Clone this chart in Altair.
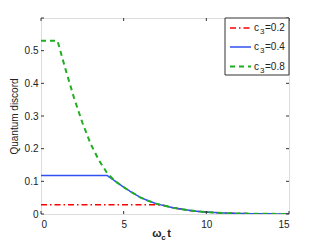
import altair as alt
import pandas as pd

# ---- data ----
t_green = [0, 1.0, 1.5, 2.0, 2.5, 3.0, 3.5, 4.0, 4.5, 5.0, 5.5, 6.0, 6.5, 7.0,
           7.5, 8.0, 8.5, 9.0, 9.5, 10, 11, 12, 13, 14, 15]
q_green = [0.53, 0.53, 0.44, 0.355, 0.28, 0.215, 0.165, 0.125, 0.100, 0.082,
           0.066, 0.051, 0.040, 0.031, 0.025, 0.019, 0.015, 0.011, 0.008,
           0.006, 0.003, 0.0015, 0.0008, 0.0004, 0.0002]

t_blue = [0, 4.0, 4.5, 5.0, 5.5, 6.0, 6.5, 7.0, 7.5, 8.0, 8.5, 9.0, 9.5, 10,
          11, 12, 13, 14, 15]
q_blue = [0.118, 0.118, 0.100, 0.082, 0.066, 0.051, 0.040, 0.031, 0.025,
          0.019, 0.015, 0.011, 0.008, 0.006, 0.003, 0.0015, 0.0008, 0.0004,
          0.0002]

t_red = [0, 7.2, 7.5, 8.0, 8.5, 9.0, 9.5, 10, 11, 12, 13, 14, 15]
q_red = [0.028, 0.028, 0.025, 0.019, 0.015, 0.011, 0.008, 0.006, 0.003,
         0.0015, 0.0008, 0.0004, 0.0002]

x_ticks = [0, 5, 10, 15]
y_ticks = [0, 0.1, 0.2, 0.3, 0.4, 0.5, 0.6]
y_labels = [0, 0.1, 0.2, 0.3, 0.4, 0.5]
legend_values = ["=0.2", "=0.4", "=0.8"]

RED = "#ff0000"
BLUE = "#3050f0"
GREEN = "#1fae1f"
FONT = "Liberation Sans"
W, H = 248, 196

xs = alt.Scale(domain=[0, 15], nice=False)
ys = alt.Scale(domain=[0, 0.6], nice=False)

xaxis = alt.Axis(values=x_ticks, title=None, ticks=False, domain=False, grid=False,
                 labelOverlap=False,
                 labelFont=FONT, labelFontSize=10, labelColor="#222", labelPadding=5)
yaxis = alt.Axis(values=y_labels, title="Quantum discord", ticks=False, domain=False,
                 grid=False, format="~g", labelOverlap=False, labelFont=FONT, labelFontSize=10,
                 labelColor="#222", labelPadding=3, titleFont=FONT, titleFontSize=10,
                 titleFontWeight="normal", titleColor="#222", titlePadding=5)


def series(t, q, color, dash, width):
    df = pd.DataFrame({"t": t, "q": q})
    return alt.Chart(df).mark_line(color=color, strokeDash=dash, strokeWidth=width,
                                   clip=True).encode(
        x=alt.X("t:Q", scale=xs, axis=xaxis),
        y=alt.Y("q:Q", scale=ys, axis=yaxis),
    )


red = series(t_red, q_red, RED, [6, 3, 1.5, 3], 1.5)
blue = series(t_blue, q_blue, BLUE, [1, 0], 1.5)
green = series(t_green, q_green, GREEN, [5, 4], 2)

xt = pd.DataFrame({"t": x_ticks})
yt = pd.DataFrame({"q": y_ticks})
tick_style = dict(color="#333", strokeWidth=1)
ticks = [
    alt.Chart(xt).mark_rule(**tick_style).encode(x=alt.X("t:Q", scale=xs, axis=xaxis), y=alt.value(H), y2=alt.value(H - 3)),
    alt.Chart(xt).mark_rule(**tick_style).encode(x=alt.X("t:Q", scale=xs, axis=xaxis), y=alt.value(0), y2=alt.value(3)),
    alt.Chart(yt).mark_rule(**tick_style).encode(y=alt.Y("q:Q", scale=ys, axis=yaxis), x=alt.value(0), x2=alt.value(3)),
    alt.Chart(yt).mark_rule(**tick_style).encode(y=alt.Y("q:Q", scale=ys, axis=yaxis), x=alt.value(W), x2=alt.value(W - 3)),
]

one = alt.Data(values=[{"a": 1}])


def txt(s, x, y, size=10, weight="normal", align="left", baseline="middle"):
    return alt.Chart(one).mark_text(align=align, baseline=baseline, font=FONT,
                                    fontSize=size, fontWeight=weight, color="#222").encode(
        x=alt.value(x), y=alt.value(y), text=alt.value(s))


# legend box
lx0, ly0, ly1 = 184, 0, 57
legend = [
    alt.Chart(one).mark_rect(fill="white", stroke="#333", strokeWidth=1).encode(
        x=alt.value(lx0), x2=alt.value(W), y=alt.value(ly0), y2=alt.value(ly1)),
]
entries = [(legend_values[0], RED, [6, 3, 1.5, 3], 1.5, 10),
           (legend_values[1], BLUE, [1, 0], 1.5, 29),
           (legend_values[2], GREEN, [5, 4], 2, 48.5)]
for val, col, dash, sw, yy in entries:
    legend.append(alt.Chart(one).mark_rule(color=col, strokeDash=dash, strokeWidth=sw).encode(
        x=alt.value(189), x2=alt.value(210), y=alt.value(yy)))
    legend.append(txt("c", 213, yy))
    legend.append(txt("3", 219, yy + 4, size=8))
    legend.append(txt(val, 224, yy))

# x title: omega with subscript c, then t
xtitle = [
    txt("\u03c9", 116, 219, size=11, weight="bold", align="center", baseline="alphabetic"),
    txt("c", 122.5, 222, size=8, weight="bold", align="center", baseline="alphabetic"),
    txt("t", 128, 219, size=11, weight="bold", align="center", baseline="alphabetic"),
]

chart = alt.layer(red, blue, green, *ticks, *legend, *xtitle).properties(
    width=W, height=H,
    autosize=alt.AutoSizeParams(type="none"),
    padding={"left": 33, "top": 10, "right": 24, "bottom": 28},
).configure_view(stroke="#333", strokeWidth=1).configure(background="white")

chart.save("out.html", embed_options={"renderer": "svg", "actions": False})
